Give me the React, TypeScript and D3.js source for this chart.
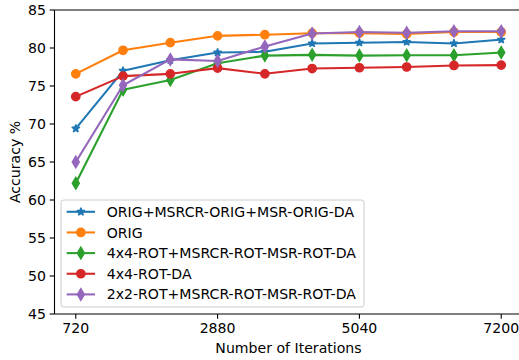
import React from "react";
import * as d3 from "d3";

const iterations = [720, 1440, 2160, 2880, 3600, 4320, 5040, 5760, 6480, 7200];
const xTicks = [720, 2880, 5040, 7200];
const yTicks = [45, 50, 55, 60, 65, 70, 75, 80, 85];

const seriesNames = [
  "ORIG+MSRCR-ORIG+MSR-ORIG-DA",
  "ORIG",
  "4x4-ROT+MSRCR-ROT-MSR-ROT-DA",
  "4x4-ROT-DA",
  "2x2-ROT+MSRCR-ROT-MSR-ROT-DA",
];
const blueVals = [69.4, 77.0, 78.4, 79.4, 79.5, 80.6, 80.7, 80.8, 80.6, 81.1];
const orangeVals = [76.6, 79.7, 80.7, 81.6, 81.75, 81.95, 81.95, 81.85, 82.1, 82.1];
const greenVals = [62.2, 74.5, 75.8, 78.0, 79.0, 79.1, 79.0, 79.05, 79.05, 79.4];
const redVals = [73.6, 76.3, 76.6, 77.35, 76.6, 77.3, 77.4, 77.5, 77.7, 77.75];
const purpleVals = [65.0, 75.1, 78.5, 78.3, 80.2, 81.9, 82.1, 82.0, 82.2, 82.2];

const allVals = [blueVals, orangeVals, greenVals, redVals, purpleVals];
const colors = ["#1f77b4", "#ff7f0e", "#2ca02c", "#d62728", "#9467bd"];
const markers = ["star", "circle", "diamond", "circle", "diamond"];

const W = 519;
const H = 360;
const FONT = "DejaVu Sans, sans-serif";
const FS = 14.1;
const MS = 8.33; // marker size px

function starPath(r: number) {
  const inner = r * 0.381966;
  const pts: [number, number][] = [];
  for (let i = 0; i < 10; i++) {
    const rad = i % 2 === 0 ? r : inner;
    const a = (Math.PI / 5) * i - Math.PI / 2;
    pts.push([rad * Math.cos(a), rad * Math.sin(a)]);
  }
  return d3.line()(pts) + "Z";
}

function diamondPath(s: number) {
  const h = (s * Math.SQRT2) / 2;
  const w = h * 0.6;
  return `M0,${-h}L${w},0L0,${h}L${-w},0Z`;
}

function Marker({ kind, x, y, color }: { kind: string; x: number; y: number; color: string }) {
  const common = { fill: color, stroke: color, strokeWidth: 1.39 };
  if (kind === "circle") return <circle cx={x} cy={y} r={MS / 2} {...common} />;
  if (kind === "star") return <path d={starPath(MS / 2)} transform={`translate(${x},${y})`} {...common} strokeLinejoin="bevel" />;
  return <path d={diamondPath(MS)} transform={`translate(${x},${y})`} {...common} strokeLinejoin="miter" />;
}

export default function App() {
  const x = d3.scaleLinear().domain([396, 7524]).range([54.5, 522.5]);
  const y = d3.scaleLinear().domain([45, 85]).range([314, 10]);
  const line = d3
    .line<number>()
    .x((_, i) => x(iterations[i]))
    .y((d) => y(d));

  const legendX = 61;
  const legendY = 200;
  const rowH = 20.65;

  return (
    <svg width={W} height={H} style={{ position: "fixed", left: 0, top: 0, background: "#fff" }} fontFamily={FONT}>
      <rect x={0} y={0} width={W} height={H} fill="#fff" />
      {/* series */}
      {allVals.map((vals, si) => (
        <g key={si}>
          <path d={line(vals) || ""} fill="none" stroke={colors[si]} strokeWidth={2.08} strokeLinejoin="round" strokeLinecap="square" />
          {vals.map((v, i) => (
            <Marker key={i} kind={markers[si]} x={x(iterations[i])} y={y(v)} color={colors[si]} />
          ))}
        </g>
      ))}
      {/* spines */}
      <line x1={x.range()[0]} x2={x.range()[0]} y1={y.range()[0]} y2={y.range()[1]} stroke="#000" strokeWidth={1.1} />
      <line x1={x.range()[0]} x2={W} y1={y.range()[0]} y2={y.range()[0]} stroke="#000" strokeWidth={1.1} />
      <line x1={x.range()[0]} x2={W} y1={y.range()[1]} y2={y.range()[1]} stroke="#000" strokeWidth={1.1} />
      {/* y ticks */}
      {yTicks.map((t) => (
        <g key={t}>
          <line x1={x.range()[0] - 4.86} x2={x.range()[0]} y1={y(t)} y2={y(t)} stroke="#000" strokeWidth={1.1} />
          <text x={x.range()[0] - 8.5} y={y(t)} dy="0.36em" textAnchor="end" fontSize={FS} fill="#000">
            {t}
          </text>
        </g>
      ))}
      {/* x ticks */}
      {xTicks.map((t) => (
        <g key={t}>
          <line x1={x(t)} x2={x(t)} y1={y.range()[0]} y2={y.range()[0] + 4.86} stroke="#000" strokeWidth={1.1} />
          <text x={x(t)} y={333} textAnchor="middle" fontSize={FS} fill="#000">
            {t}
          </text>
        </g>
      ))}
      <text x={288.5} y={353} textAnchor="middle" fontSize={FS} fill="#000">
        Number of Iterations
      </text>
      <text transform={`translate(19.5,${(y.range()[0] + y.range()[1]) / 2}) rotate(-90)`} textAnchor="middle" fontSize={FS} fill="#000">
        Accuracy %
      </text>
      {/* legend */}
      <rect x={legendX} y={legendY} width={303} height={107} rx={2.8} fill="#fff" fillOpacity={0.8} stroke="#cccccc" strokeWidth={1} />
      {seriesNames.map((name, i) => {
        const cy = legendY + 11.8 + i * rowH;
        return (
          <g key={name}>
            <line x1={66.7} x2={95} y1={cy} y2={cy} stroke={colors[i]} strokeWidth={2.08} />
            <Marker kind={markers[i]} x={80.85} y={cy} color={colors[i]} />
            <text x={106.7} y={cy} dy="0.36em" fontSize={FS} fill="#000">
              {name}
            </text>
          </g>
        );
      })}
    </svg>
  );
}
